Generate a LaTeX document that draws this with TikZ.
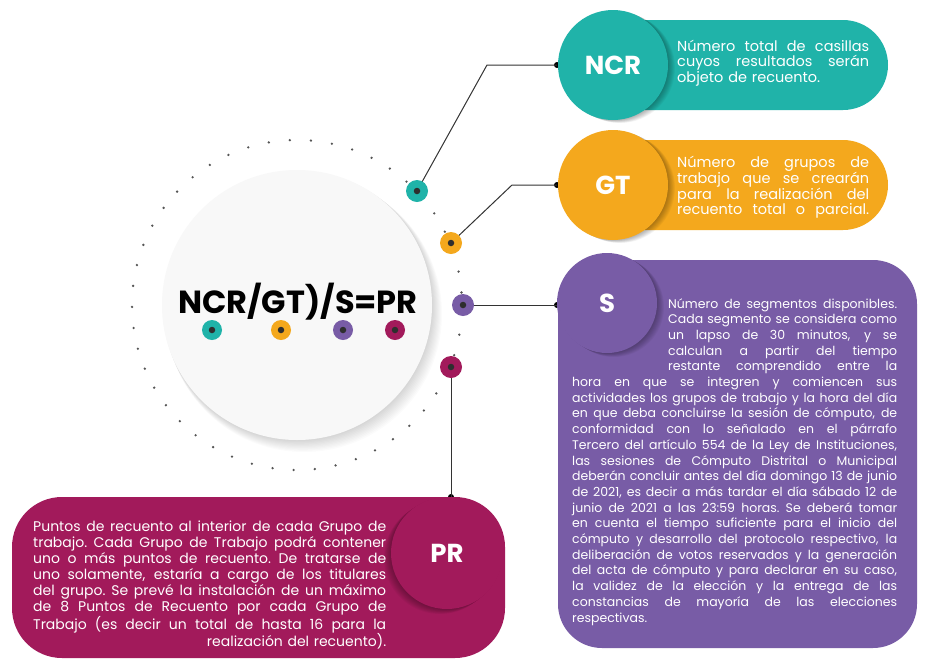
\documentclass[tikz,border=0pt]{standalone}
\usepackage{fontspec}
\setmainfont{Poppins}
\usepackage{graphicx}
\definecolor{cteal}{HTML}{20B3A9}
\definecolor{corange}{HTML}{F4A81D}
\definecolor{cpurple}{HTML}{785CA6}
\definecolor{cmag}{HTML}{A21A5B}
\definecolor{cline}{HTML}{333333}
\definecolor{cdark}{HTML}{2E2E2E}
\definecolor{bigfill}{HTML}{F8F8F8}
\definecolor{cdot}{HTML}{555555}
\newcommand\jline[2]{{\spaceskip=\fontdimen2\font plus 4\fontdimen2\font minus 0.3\fontdimen2\font\relax
  \xspaceskip=\spaceskip
  \sbox0{#2}\ifdim\wd0>#1\relax\resizebox{#1}{\height}{#2}\else\makebox[#1][s]{#2}\fi}}
\newcommand\lline[2]{\makebox[#1][l]{#2}}
\newcommand\rline[2]{\makebox[#1][r]{#2}}
\newcommand\softshadow[5]{\foreach \k in {1,...,8}{\fill[black,opacity=0.04] ({#1+#4*\k/8},{#2+#5*\k/8}) circle (#3pt);}}
\begin{document}
\begin{tikzpicture}[x=1pt,y=-1pt,
  conn/.style={draw=cline, line width=1pt},
  enddot/.style={circle, fill=black, inner sep=0pt, minimum size=6pt},
  ring/.style={circle, inner sep=0pt, minimum size=22pt},
  minring/.style={circle, inner sep=0pt, minimum size=20pt},
  core/.style={circle, fill=cdark, inner sep=0pt, minimum size=6.5pt},
  pill/.style={rectangle, rounded corners=45pt, inner sep=0pt},
  head/.style={circle, inner sep=0pt, text=white, font=\fontsize{26}{26}\selectfont\bfseries},
  body/.style={anchor=base west, inner sep=0pt, text=white, execute at begin node=\setlength{\parindent}{0pt}},
]
\useasboundingbox (0,0) rectangle (948,665);
\fill[white] (0,0) rectangle (948,665);

% big circle with soft shadow
\foreach \k in {1,...,10}{\fill[black,opacity=0.014] ({297+0.7*\k},{305+0.9*\k}) circle ({135pt+0.3pt*\k});}
\foreach \i in {0,...,48}{\fill[cdot] ({297+165*cos(\i*7.34694+3)},{305+165*sin(\i*7.34694+3)}) circle (1.3pt);}
\node[circle, fill=bigfill, inner sep=0pt, minimum size=270pt] (main) at (297,305) {};
\node[anchor=base, inner sep=0pt, font=\fontsize{32}{32}\selectfont\bfseries] (title) at (298,313) {NCR/GT)/S=PR};

% small dots below title
\node[minring, fill=cteal] (m1) at (212,330) {}; \node[core] (m1c) at (m1) {};
\node[minring, fill=corange] (m2) at (281,330) {}; \node[core] (m2c) at (m2) {};
\node[minring, fill=cpurple] (m3) at (343,330) {}; \node[core] (m3c) at (m3) {};
\node[minring, fill=cmag] (m4) at (395,330) {}; \node[core] (m4c) at (m4) {};

% coordinates for connectors
\coordinate (kNCR) at (487,65);
\coordinate (kGT) at (512,185);
\node[enddot] (eNCR) at (557,65) {};
\node[enddot] (eGT) at (557,185) {};
\node[enddot] (eS) at (557,305) {};
\node[enddot] (ePR) at (451,497) {};
\coordinate (rNCRp) at (417,191);
\coordinate (rGTp) at (451,243);
\coordinate (rSp) at (463,305);
\coordinate (rPRp) at (451,367);
\draw[conn] (rNCRp) -- (kNCR) -- (eNCR.center);
\draw[conn] (rGTp) -- (kGT) -- (eGT.center);
\draw[conn] (rSp) -- (eS.center);
\draw[conn] (rPRp) -- (ePR.center);

\node[ring, fill=cteal] (rNCR) at (rNCRp) {}; \node[core] (rNCRc) at (rNCR) {};
\node[ring, fill=corange] (rGT) at (rGTp) {}; \node[core] (rGTc) at (rGT) {};
\node[ring, fill=cpurple] (rS) at (rSp) {}; \node[core] (rSc) at (rS) {};
\node[ring, fill=cmag] (rPR) at (rPRp) {}; \node[core] (rPRc) at (rPR) {};

% NCR panel
\node[pill, fill=cteal, minimum width=288pt, minimum height=90pt] (pNCR) at (744,65) {};
\softshadow{613}{65}{55}{7}{3}
\node[head, fill=cteal, minimum size=110pt] (hNCR) at (613,65) {NCR};
\node[body, text width=192pt, font=\fontsize{14.5}{15.5}\selectfont] (tNCR) at (677,51) {%
\jline{192pt}{Número total de casillas}\par
\jline{192pt}{cuyos resultados serán}\par
\lline{192pt}{objeto de recuento.}};

% GT panel
\node[pill, fill=corange, minimum width=288pt, minimum height=90pt] (pGT) at (744,185) {};
\softshadow{613}{185}{55}{7}{3}
\node[head, fill=corange, minimum size=110pt] (hGT) at (613,185) {GT};
\node[body, text width=192pt, font=\fontsize{14.5}{15.8}\selectfont] (tGT) at (677,167.5) {%
\jline{192pt}{Número de grupos de}\par
\jline{192pt}{trabajo que se crearán}\par
\jline{192pt}{para la realización del}\par
\jline{192pt}{recuento total o parcial.}};

% S panel
\node[pill, rounded corners=44pt, fill=cpurple, minimum width=359pt, minimum height=388pt] (pS) at (737.5,454) {};
\softshadow{607}{303}{50}{7}{4}
\node[head, fill=cpurple, minimum size=100pt] (hS) at (607,303) {S};
\node[body, text width=325pt, font=\fontsize{12.5}{15.7}\selectfont] (tS) at (572,308) {%
\hspace*{96pt}\jline{229pt}{Número de segmentos disponibles.}\par
\hspace*{96pt}\jline{229pt}{Cada segmento se considera como}\par
\hspace*{96pt}\jline{229pt}{un lapso de 30 minutos, y  se}\par
\hspace*{96pt}\jline{229pt}{calculan a partir del tiempo}\par
\hspace*{96pt}\jline{229pt}{restante comprendido entre la}\par
\jline{325pt}{hora en que se integren y comiencen sus}\par
\jline{325pt}{actividades los grupos de trabajo y la hora del día}\par
\jline{325pt}{en que deba concluirse la sesión de cómputo, de}\par
\jline{325pt}{conformidad con lo señalado en el párrafo}\par
\jline{325pt}{Tercero del artículo 554 de la Ley de Instituciones,}\par
\jline{325pt}{las sesiones de Cómputo Distrital o Municipal}\par
\jline{325pt}{deberán concluir antes del día domingo 13 de junio}\par
\jline{325pt}{de 2021, es decir a más tardar el día sábado 12 de}\par
\jline{325pt}{junio de 2021 a las 23:59 horas. Se deberá tomar}\par
\jline{325pt}{en cuenta el tiempo suficiente para el inicio del}\par
\jline{325pt}{cómputo y desarrollo del protocolo respectivo, la}\par
\jline{325pt}{deliberación de votos reservados y la generación}\par
\jline{325pt}{del acta de cómputo y para declarar en su caso,}\par
\jline{325pt}{la validez de la elección y la entrega de las}\par
\jline{325pt}{constancias de mayoría de las elecciones}\par
\lline{325pt}{respectivas.}};

% PR panel
\node[pill, rounded corners=50pt, fill=cmag, minimum width=493pt, minimum height=161pt] (pPR) at (258.5,577.5) {};
\softshadow{447}{553}{56}{-7}{5}
\node[head, fill=cmag, minimum size=112pt] (hPR) at (447,553) {PR};
\node[body, text width=353pt, font=\fontsize{14}{16}\selectfont] (tPR) at (33,531.5) {%
\jline{353pt}{Puntos de recuento al interior de cada Grupo de}\par
\jline{353pt}{trabajo. Cada Grupo de Trabajo podrá contener}\par
\jline{353pt}{uno o más puntos de recuento. De tratarse de}\par
\jline{353pt}{uno solamente, estaría a cargo de los titulares}\par
\jline{353pt}{del grupo. Se prevé la instalación de un máximo}\par
\jline{353pt}{de 8 Puntos de Recuento por cada Grupo de}\par
\jline{353pt}{Trabajo (es decir un total de hasta 16 para la}\par
\rline{353pt}{realización del recuento).}};
\end{tikzpicture}
\end{document}
